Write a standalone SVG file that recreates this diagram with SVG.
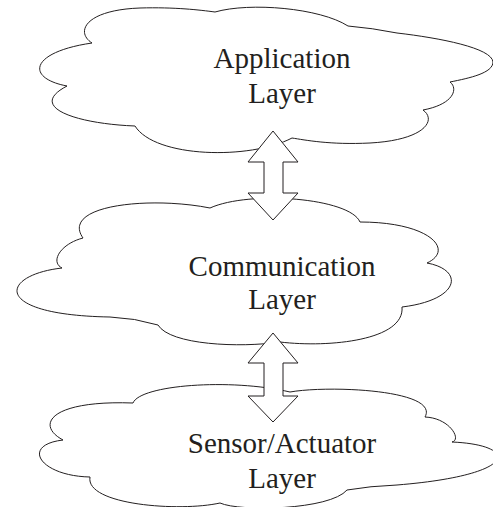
<svg xmlns="http://www.w3.org/2000/svg" width="493" height="507" viewBox="0 0 493 507">
<style>
.cloud{fill:#fff;stroke:#231f20;stroke-width:1}
.arrow{fill:#fff;stroke:#231f20;stroke-width:1;stroke-linejoin:miter}
.lbl{font-family:"Liberation Serif","Times New Roman",serif;font-size:29px;fill:#231f20;text-anchor:middle}
</style>
<rect width="493" height="507" fill="#fff"/>
<g id="node-application">
<path class="cloud" d="M92,43 C75,32 85,10 140,8 C175,7 200,10 215,12 C250,2 320,8 348,26 Q372,28 397,33 C440,38 492,48 493,62 C493,73 470,78 450,82 C458,88 455,104 423,110 C437,120 425,140 370,143 C330,145 305,140 292,138 C250,160 155,158 135,126 C80,124 25,108 67,86 C25,78 30,52 92,43 Z"/>
<text class="lbl" x="282" y="68">Application</text>
<text class="lbl" x="282" y="103">Layer</text>
</g>
<g id="node-communication">
<path class="cloud" d="M210,208 C150,196 60,205 83,238 C60,244 50,262 62,268 C0,275 -10,315 110,317 Q135,318 158,325 C170,345 240,348 280,342 C330,348 405,340 402,307 C460,300 465,270 427,263 C455,250 430,222 360,222 C350,198 250,190 210,208 Z"/>
<text class="lbl" x="282" y="276">Communication</text>
<text class="lbl" x="282" y="309">Layer</text>
</g>
<g id="node-sensor">
<path class="cloud" d="M133,403 C140,385 230,378 290,392 C330,385 440,390 425,417 C450,418 462,440 452,442 C520,445 520,475 397,485 Q370,486 347,490 C330,510 240,512 220,503 C180,512 85,505 90,477 C40,476 20,445 63,440 C35,425 50,400 133,403 Z"/>
<text class="lbl" x="282" y="453">Sensor/Actuator</text>
<text class="lbl" x="282" y="488">Layer</text>
</g>
<g id="connectors">
<polygon class="arrow" points="273,131 298,162 283,162 283,193 298,193 273,220 248,193 264,193 264,162 248,162"/>
<polygon class="arrow" points="273,333 298,363 283,363 283,396 298,396 273,422 248,396 264,396 264,363 248,363"/>
</g>
</svg>
